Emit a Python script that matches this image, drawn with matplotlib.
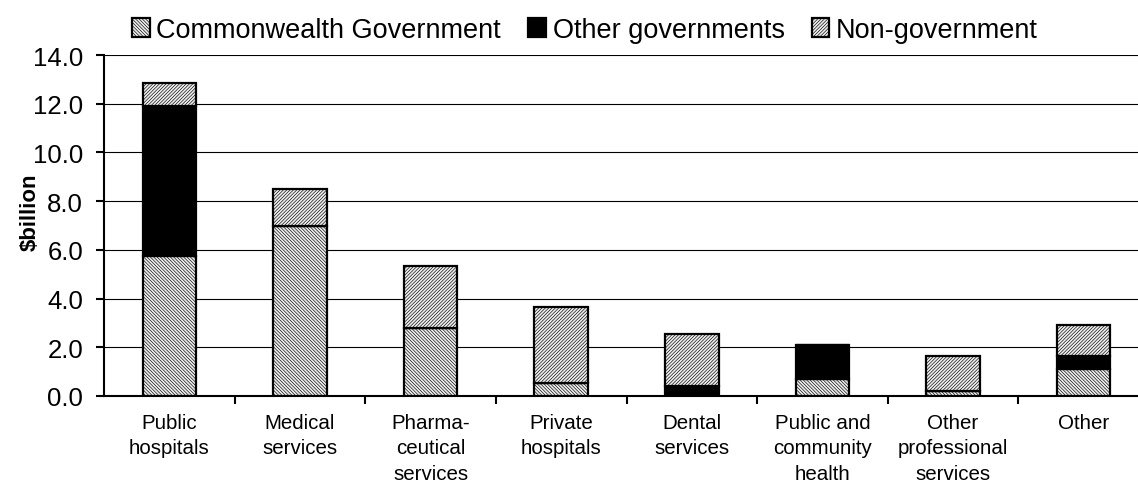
import numpy as np
import matplotlib
matplotlib.use('Agg')
import matplotlib.pyplot as plt

plt.rcParams['font.family'] = ['Liberation Sans', 'DejaVu Sans']
plt.rcParams['hatch.linewidth'] = 0.45

categories = ['Public\nhospitals', 'Medical\nservices', 'Pharma-\nceutical\nservices',
              'Private\nhospitals', 'Dental\nservices', 'Public and\ncommunity\nhealth',
              'Other\nprofessional\nservices', 'Other']
commonwealth = [5.75, 7.0, 2.8, 0.55, 0.0, 0.7, 0.2, 1.1]
other_govts = [6.15, 0.0, 0.0, 0.0, 0.4, 1.4, 0.0, 0.55]
non_govt = [0.95, 1.5, 2.55, 3.1, 2.15, 0.0, 1.45, 1.25]
yticks = [0, 2, 4, 6, 8, 10, 12, 14]

W, H = 1138, 485
fig = plt.figure(figsize=(W / 100, H / 100), dpi=100)
# plot area runs a little past the right edge of the figure
ax = fig.add_axes([104 / W, 88 / H, 1045 / W, 341 / H])

x = np.arange(len(categories))
bw = 0.41
c = np.array(commonwealth)
o = np.array(other_govts)
n = np.array(non_govt)

b1 = ax.bar(x, c, bw, color='#eeeeee', edgecolor='black', linewidth=1.6,
            hatch='\\' * 10, label='Commonwealth Government', zorder=3)
b2 = ax.bar(x, o, bw, bottom=c, color='black', edgecolor='black', linewidth=1.6,
            label='Other governments', zorder=3)
b3 = ax.bar(x, n, bw, bottom=c + o, color='#eeeeee', edgecolor='black', linewidth=1.6,
            hatch='/' * 10, label='Non-government', zorder=3)

ax.set_xlim(-0.5, len(categories) - 0.5)
ax.set_ylim(0, 14)
ax.set_yticks(yticks)
ax.set_yticklabels(['%.1f' % v for v in yticks], fontsize=18.5)
ax.yaxis.grid(True, color='black', linewidth=0.8)
ax.set_axisbelow(True)

# category boundaries get the tick marks, centres get the labels
ax.set_xticks(np.arange(len(categories) - 1) + 0.5)
ax.set_xticklabels([])
ax.set_xticks(x, minor=True)
ax.set_xticklabels(categories, minor=True, fontsize=14.8, linespacing=1.45)
ax.tick_params(axis='x', which='major', length=6, width=1.5, direction='out')
ax.tick_params(axis='x', which='minor', length=0, pad=12)
ax.tick_params(axis='y', length=6, width=1.5, pad=9)

for s in ['top', 'right']:
    ax.spines[s].set_visible(False)
ax.spines['left'].set_linewidth(1.5)
ax.spines['bottom'].set_linewidth(1.5)

fig.text(30 / W, 1 - 212 / H, '\\$billion', rotation=90, fontsize=16,
         fontweight='bold', ha='center', va='center')

fig.legend(handles=[b1, b2, b3], loc='center', bbox_to_anchor=(585 / W, 1 - 31 / H),
           ncol=3, frameon=False, fontsize=19.5, handlelength=0.65, handleheight=0.65,
           handletextpad=0.25, columnspacing=1.0, borderaxespad=0)

fig.savefig('out.png', dpi=100)
